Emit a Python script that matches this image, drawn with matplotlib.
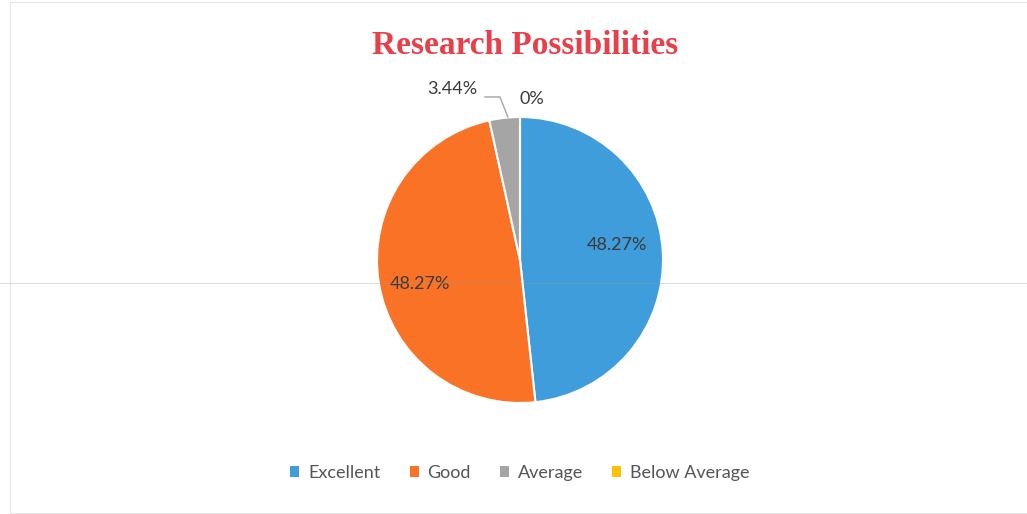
import numpy as np
import matplotlib.pyplot as plt
from matplotlib.patches import Rectangle

categories = ['Excellent', 'Good', 'Average', 'Below Average']
values = [48.27, 48.27, 3.44, 0.0]
labels = ['48.27%', '48.27%', '3.44%', '0%']
colors = ['#3f9ddb', '#f97226', '#a5a5a5', '#ffc000']

# label placement in pie-radius units
label_pos = [(0.678, 0.105), (-0.70, -0.168), (-0.476, 1.196), (0.084, 1.126)]

W, H = 1027, 514
cx, cy, R = 520, 260, 143

fig = plt.figure(figsize=(W / 100, H / 100), dpi=100)
ax = fig.add_axes([0, 0, 1, 1])

wedges, _ = ax.pie(values, colors=colors, startangle=90, counterclock=False,
                   radius=1, center=(0, 0), normalize=True,
                   wedgeprops=dict(edgecolor='white', linewidth=1.5))
ax.set_aspect('auto')
ax.set_xlim(-cx / R, (W - cx) / R)
ax.set_ylim(-(H - cy) / R, cy / R)
ax.axis('off')

# faint frame and scan line
fig.patches.append(Rectangle((10 / W, 1 / H), 1.0, 1 - 3 / H, transform=fig.transFigure,
                             fill=False, ec='#e6e6e6', lw=0.8))
fig.add_artist(plt.Line2D([0, 1], [1 - 283 / H, 1 - 283 / H], transform=fig.transFigure,
                          color='#999999', alpha=0.35, lw=0.7, zorder=10))

lab_font = dict(family=['Lato', 'DejaVu Sans'], fontsize=13, color='#3a3a3a')
for lab, (x, y) in zip(labels, label_pos):
    ax.text(x, y, lab, ha='center', va='center', **lab_font)

# leader line for the small slice
ax.plot([-0.245, -0.14, -0.085], [1.14, 1.14, 1.0], color='#a5a5a5', lw=1)

fig.text(525 / W, 1 - 46 / H, 'Research Possibilities', ha='center', va='center',
         family='Liberation Serif', fontweight='bold', fontsize=24, color='#e8404a')

leg = fig.legend(wedges, categories, loc='center', bbox_to_anchor=(520 / W, 1 - 473 / H),
                 ncol=4, frameon=False, handlelength=0.5, handleheight=0.5,
                 handletextpad=0.5, columnspacing=1.6,
                 prop=dict(family=['Lato', 'DejaVu Sans'], size=13))
for t in leg.get_texts():
    t.set_color('#555555')
for h in leg.legend_handles:
    h.set_edgecolor('none')

plt.savefig('out.png', dpi=100)
plt.close()
